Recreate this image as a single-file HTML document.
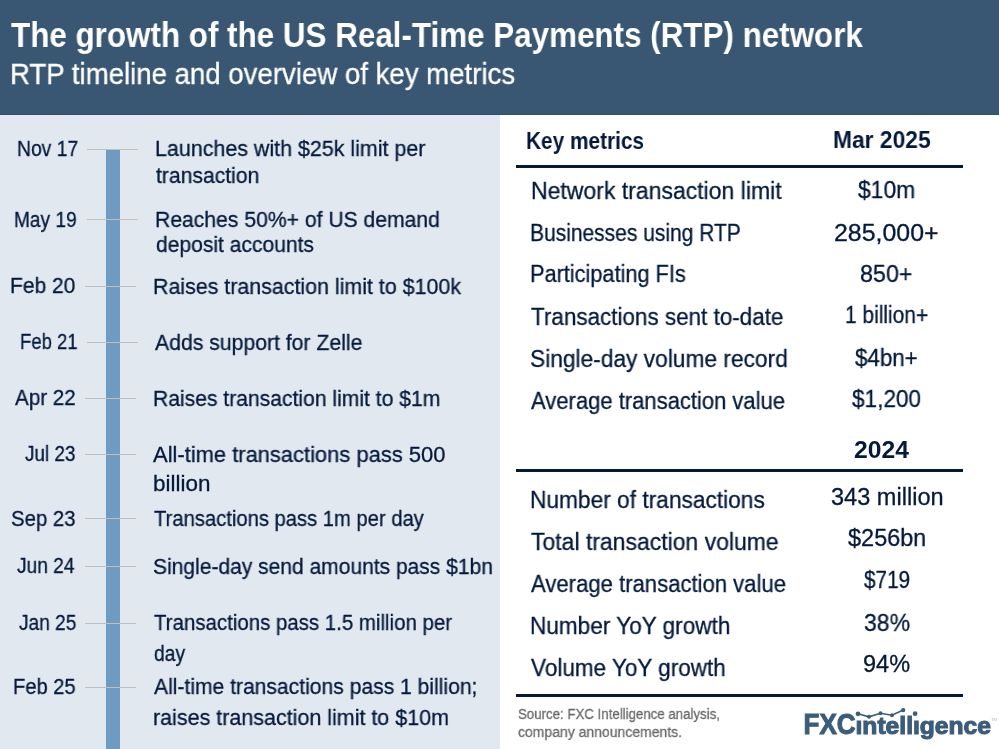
<!DOCTYPE html>
<html><head><meta charset="utf-8"><style>
html,body{margin:0;padding:0;}
body{width:999px;height:749px;position:relative;overflow:hidden;background:#fff;font-family:"Liberation Sans",sans-serif;}
.hdr{position:absolute;left:0;top:0;width:999px;height:115px;background:#395773;}
.hdrline{position:absolute;left:0;top:114px;width:999px;height:1px;background:#31506d;}
.lp{position:absolute;left:0;top:115px;width:500px;height:634px;background:#e2e8f0;}
.bar{position:absolute;left:106px;top:149px;width:14px;height:600px;background:#709bc0;}
.tick{position:absolute;width:51px;height:1px;background:#c1bfbc;}
.rule{position:absolute;height:3px;background:#04183a;}
.t{position:absolute;white-space:nowrap;transform-origin:0 0;-webkit-text-stroke:0.3px currentColor;will-change:transform;}
</style></head><body>
<div class="hdr"></div><div class="hdrline"></div>
<div class="lp"></div>
<div class="bar"></div>
<div class="tick" style="top:149px;left:87px"></div><div class="tick" style="top:219px;left:87px"></div><div class="tick" style="top:286px;left:85px"></div><div class="tick" style="top:342px;left:87px"></div><div class="tick" style="top:398px;left:85px"></div><div class="tick" style="top:454px;left:85px"></div><div class="tick" style="top:518px;left:85px"></div><div class="tick" style="top:566px;left:85px"></div><div class="tick" style="top:623px;left:85px"></div><div class="tick" style="top:687px;left:85px"></div>
<div class="rule" style="left:516px;top:165px;width:447px"></div>
<div class="rule" style="left:516px;top:469px;width:447px"></div>
<div class="rule" style="left:516px;top:694px;width:447px"></div>
<div class="t" style="left:10.70px;top:17.27px;font-size:35px;line-height:35px;font-weight:700;color:#ffffff;transform:scaleX(0.8964);-webkit-text-stroke:0;">The growth of the US Real-Time Payments (RTP) network</div>
<div class="t" style="left:9.86px;top:60.22px;font-size:28.8px;line-height:28.8px;font-weight:400;color:#ffffff;transform:scaleX(0.9583);">RTP timeline and overview of key metrics</div>
<div class="t" style="left:16.80px;top:138.08px;font-size:22px;line-height:22px;font-weight:400;color:#051a3b;transform:scaleX(0.8782);">Nov 17</div>
<div class="t" style="left:14.40px;top:208.78px;font-size:22px;line-height:22px;font-weight:400;color:#051a3b;transform:scaleX(0.8675);">May 19</div>
<div class="t" style="left:10.30px;top:275.38px;font-size:22px;line-height:22px;font-weight:400;color:#051a3b;transform:scaleX(0.9536);">Feb 20</div>
<div class="t" style="left:20.30px;top:331.08px;font-size:22px;line-height:22px;font-weight:400;color:#051a3b;transform:scaleX(0.8412);">Feb 21</div>
<div class="t" style="left:15.00px;top:387.38px;font-size:22px;line-height:22px;font-weight:400;color:#051a3b;transform:scaleX(0.9376);">Apr 22</div>
<div class="t" style="left:25.20px;top:443.48px;font-size:22px;line-height:22px;font-weight:400;color:#051a3b;transform:scaleX(0.8588);">Jul 23</div>
<div class="t" style="left:11.10px;top:507.88px;font-size:22px;line-height:22px;font-weight:400;color:#051a3b;transform:scaleX(0.9249);">Sep 23</div>
<div class="t" style="left:17.38px;top:555.28px;font-size:22px;line-height:22px;font-weight:400;color:#051a3b;transform:scaleX(0.8710);">Jun 24</div>
<div class="t" style="left:19.03px;top:612.48px;font-size:22px;line-height:22px;font-weight:400;color:#051a3b;transform:scaleX(0.8690);">Jan 25</div>
<div class="t" style="left:12.97px;top:676.28px;font-size:22px;line-height:22px;font-weight:400;color:#051a3b;transform:scaleX(0.9142);">Feb 25</div>
<div class="t" style="left:155.40px;top:138.38px;font-size:22px;line-height:22px;font-weight:400;color:#051a3b;transform:scaleX(0.9741);">Launches with $25k limit per</div>
<div class="t" style="left:156.03px;top:165.48px;font-size:22px;line-height:22px;font-weight:400;color:#051a3b;transform:scaleX(0.9588);">transaction</div>
<div class="t" style="left:155.30px;top:208.78px;font-size:22px;line-height:22px;font-weight:400;color:#051a3b;transform:scaleX(0.9607);">Reaches 50%+ of US demand</div>
<div class="t" style="left:155.86px;top:234.28px;font-size:22px;line-height:22px;font-weight:400;color:#051a3b;transform:scaleX(0.9570);">deposit accounts</div>
<div class="t" style="left:152.97px;top:275.58px;font-size:22px;line-height:22px;font-weight:400;color:#051a3b;transform:scaleX(0.9724);">Raises transaction limit to $100k</div>
<div class="t" style="left:154.86px;top:331.58px;font-size:22px;line-height:22px;font-weight:400;color:#051a3b;transform:scaleX(0.9637);">Adds support for Zelle</div>
<div class="t" style="left:152.90px;top:387.88px;font-size:22px;line-height:22px;font-weight:400;color:#051a3b;transform:scaleX(0.9590);">Raises transaction limit to $1m</div>
<div class="t" style="left:152.90px;top:443.68px;font-size:22px;line-height:22px;font-weight:400;color:#051a3b;transform:scaleX(0.9963);">All-time transactions pass 500</div>
<div class="t" style="left:152.97px;top:473.08px;font-size:22px;line-height:22px;font-weight:400;color:#051a3b;transform:scaleX(1.0206);">billion</div>
<div class="t" style="left:153.86px;top:507.88px;font-size:22px;line-height:22px;font-weight:400;color:#051a3b;transform:scaleX(0.9181);">Transactions pass 1m per day</div>
<div class="t" style="left:153.30px;top:556.28px;font-size:22px;line-height:22px;font-weight:400;color:#051a3b;transform:scaleX(0.9550);">Single-day send amounts pass $1bn</div>
<div class="t" style="left:153.86px;top:612.18px;font-size:22px;line-height:22px;font-weight:400;color:#051a3b;transform:scaleX(0.9291);">Transactions pass 1.5 million per</div>
<div class="t" style="left:153.86px;top:643.08px;font-size:22px;line-height:22px;font-weight:400;color:#051a3b;transform:scaleX(0.8757);">day</div>
<div class="t" style="left:153.86px;top:676.38px;font-size:22px;line-height:22px;font-weight:400;color:#051a3b;transform:scaleX(0.9583);">All-time transactions pass 1 billion;</div>
<div class="t" style="left:153.30px;top:707.28px;font-size:22px;line-height:22px;font-weight:400;color:#051a3b;transform:scaleX(0.9759);">raises transaction limit to $10m</div>
<div class="t" style="left:526.00px;top:129.38px;font-size:24px;line-height:24px;font-weight:700;color:#051a3b;transform:scaleX(0.8671);-webkit-text-stroke:0;">Key metrics</div>
<div class="t" style="left:832.90px;top:128.08px;font-size:24px;line-height:24px;font-weight:700;color:#051a3b;transform:scaleX(0.9502);-webkit-text-stroke:0;">Mar 2025</div>
<div class="t" style="left:854.10px;top:438.38px;font-size:24px;line-height:24px;font-weight:700;color:#051a3b;transform:scaleX(1.0281);-webkit-text-stroke:0;">2024</div>
<div class="t" style="left:530.65px;top:180.01px;font-size:23.5px;line-height:23.5px;font-weight:400;color:#051a3b;transform:scaleX(0.9790);">Network transaction limit</div>
<div class="t" style="left:857.80px;top:179.11px;font-size:23.5px;line-height:23.5px;font-weight:400;color:#051a3b;transform:scaleX(0.9726);">$10m</div>
<div class="t" style="left:529.97px;top:222.11px;font-size:23.5px;line-height:23.5px;font-weight:400;color:#051a3b;transform:scaleX(0.8932);">Businesses using RTP</div>
<div class="t" style="left:833.80px;top:221.81px;font-size:23.5px;line-height:23.5px;font-weight:400;color:#051a3b;transform:scaleX(1.0598);">285,000+</div>
<div class="t" style="left:529.97px;top:263.01px;font-size:23.5px;line-height:23.5px;font-weight:400;color:#051a3b;transform:scaleX(0.9247);">Participating FIs</div>
<div class="t" style="left:860.00px;top:263.01px;font-size:23.5px;line-height:23.5px;font-weight:400;color:#051a3b;transform:scaleX(0.9899);">850+</div>
<div class="t" style="left:530.60px;top:305.91px;font-size:23.5px;line-height:23.5px;font-weight:400;color:#051a3b;transform:scaleX(0.9549);">Transactions sent to-date</div>
<div class="t" style="left:845.30px;top:304.01px;font-size:23.5px;line-height:23.5px;font-weight:400;color:#051a3b;transform:scaleX(0.8907);">1 billion+</div>
<div class="t" style="left:529.97px;top:347.61px;font-size:23.5px;line-height:23.5px;font-weight:400;color:#051a3b;transform:scaleX(0.9674);">Single-day volume record</div>
<div class="t" style="left:855.00px;top:346.81px;font-size:23.5px;line-height:23.5px;font-weight:400;color:#051a3b;transform:scaleX(0.9503);">$4bn+</div>
<div class="t" style="left:530.67px;top:389.81px;font-size:23.5px;line-height:23.5px;font-weight:400;color:#051a3b;transform:scaleX(0.9362);">Average transaction value</div>
<div class="t" style="left:851.69px;top:388.21px;font-size:23.5px;line-height:23.5px;font-weight:400;color:#051a3b;transform:scaleX(0.9605);">$1,200</div>
<div class="t" style="left:529.97px;top:489.11px;font-size:23.5px;line-height:23.5px;font-weight:400;color:#051a3b;transform:scaleX(0.9665);">Number of transactions</div>
<div class="t" style="left:830.60px;top:486.31px;font-size:23.5px;line-height:23.5px;font-weight:400;color:#051a3b;transform:scaleX(1.0024);">343 million</div>
<div class="t" style="left:530.60px;top:531.31px;font-size:23.5px;line-height:23.5px;font-weight:400;color:#051a3b;transform:scaleX(0.9772);">Total transaction volume</div>
<div class="t" style="left:847.70px;top:527.41px;font-size:23.5px;line-height:23.5px;font-weight:400;color:#051a3b;transform:scaleX(0.9983);">$256bn</div>
<div class="t" style="left:530.67px;top:573.31px;font-size:23.5px;line-height:23.5px;font-weight:400;color:#051a3b;transform:scaleX(0.9399);">Average transaction value</div>
<div class="t" style="left:864.03px;top:569.01px;font-size:23.5px;line-height:23.5px;font-weight:400;color:#051a3b;transform:scaleX(0.8801);">$719</div>
<div class="t" style="left:529.97px;top:615.11px;font-size:23.5px;line-height:23.5px;font-weight:400;color:#051a3b;transform:scaleX(0.9606);">Number YoY growth</div>
<div class="t" style="left:864.03px;top:611.61px;font-size:23.5px;line-height:23.5px;font-weight:400;color:#051a3b;transform:scaleX(0.9779);">38%</div>
<div class="t" style="left:530.60px;top:656.81px;font-size:23.5px;line-height:23.5px;font-weight:400;color:#051a3b;transform:scaleX(0.9578);">Volume YoY growth</div>
<div class="t" style="left:863.40px;top:653.11px;font-size:23.5px;line-height:23.5px;font-weight:400;color:#051a3b;transform:scaleX(0.9988);">94%</div>
<div class="t" style="left:517.69px;top:706.18px;font-size:15.5px;line-height:15.5px;font-weight:400;color:#6a6a6a;transform:scaleX(0.8557);">Source: FXC Intelligence analysis,</div>
<div class="t" style="left:517.69px;top:723.78px;font-size:15.5px;line-height:15.5px;font-weight:400;color:#6a6a6a;transform:scaleX(0.9020);">company announcements.</div>
<svg style="position:absolute;left:0;top:0" width="999" height="749" viewBox="0 0 999 749">
<g fill="#3c5c7c" stroke="#3c5c7c" stroke-width="1.1" font-family="Liberation Sans, sans-serif" font-weight="700">
<text x="803.5" y="734" font-size="30.3" textLength="52" lengthAdjust="spacingAndGlyphs">FXC</text>
<text x="855.5" y="734" font-size="24" textLength="135.5" lengthAdjust="spacingAndGlyphs">&#305;ntell&#305;gence</text>
</g>
<polyline points="858,713.8 869,716.8 880.5,713.2 892,715.2 903.2,710.1" fill="none" stroke="#3c5c7c" stroke-width="1.6"/>
<g fill="#3c5c7c">
<circle cx="858" cy="713.8" r="2.4"/><circle cx="869" cy="716.8" r="2"/><circle cx="880.5" cy="713.2" r="2"/><circle cx="892" cy="715.2" r="2"/><circle cx="903.2" cy="710.1" r="2.2"/><circle cx="915.1" cy="713.7" r="2.4"/>
</g>
<text x="991" y="721" font-size="4" fill="#aab5c0" font-family="Liberation Sans, sans-serif">TM</text>
</svg>

</body></html>
